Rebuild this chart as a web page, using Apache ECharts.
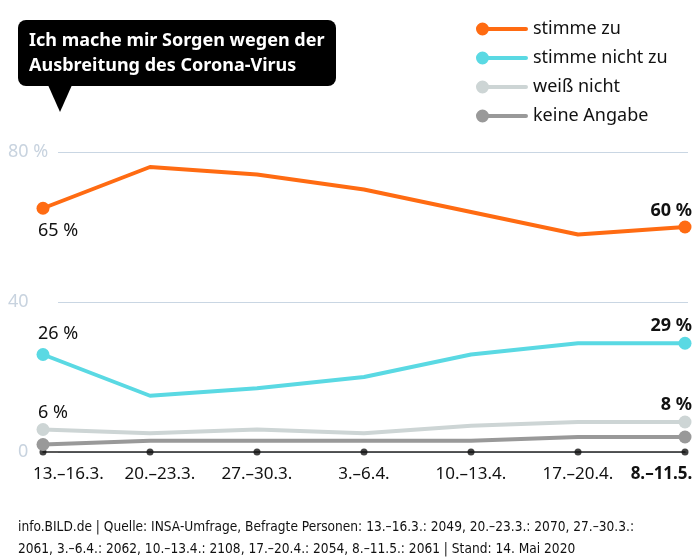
<!DOCTYPE html>
<html>
<head>
<meta charset="utf-8">
<script src="https://cdn.jsdelivr.net/npm/echarts@6/dist/echarts.min.js"></script>
<style>
html,body{margin:0;padding:0;background:#fff;}
#c{width:700px;height:560px;}
</style>
</head>
<body>
<div id="c"></div>
<script>
const categories = ['13.–16.3.', '20.–23.3.', '27.–30.3.', '3.–6.4.', '10.–13.4.', '17.–20.4.', '8.–11.5.'];
const stimmeZu = [65, 76, 74, 70, 64, 58, 60];
const stimmeNichtZu = [26, 15, 17, 20, 26, 29, 29];
const weissNicht = [6, 5, 6, 5, 7, 8, 8];
const keineAngabe = [2, 3, 3, 3, 3, 4, 4];
const seriesNames = ['stimme zu', 'stimme nicht zu', 'weiß nicht', 'keine Angabe'];
const yTicks = [0, 40, 80];
const yTickLabels = ['0', '40', '80 %'];
const axisBase = categories.map(() => 0);

const colors = ['#ff6b12', '#5ad9e3', '#cdd5d5', '#999999'];
const FONT = 'Noto Sans';
const last = categories.length - 1;

function makeData(vals, firstLabel, lastLabel) {
  return vals.map((v, i) => {
    if (i === 0 && firstLabel) return { value: v, label: firstLabel };
    if (i === last && lastLabel) return { value: v, label: lastLabel };
    return v;
  });
}
const lblBase = { show: true, formatter: '{c} %', fontFamily: FONT, fontSize: 18, color: '#111' };
function lbl(pos, align, dist, bold) {
  return Object.assign({}, lblBase, {
    position: pos, align: align, distance: dist,
    offset: [align === 'left' ? -5 : 7, 0],
    fontWeight: bold ? 'bold' : 'normal'
  });
}

function lineSeries(idx, vals, fl, ll) {
  return {
    name: seriesNames[idx],
    type: 'line',
    xAxisIndex: 0, yAxisIndex: 0,
    data: makeData(vals, fl, ll),
    symbol: 'circle',
    symbolSize: (v, p) => (p.dataIndex === 0 || p.dataIndex === last) ? 13 : 0,
    showAllSymbol: true,
    itemStyle: { color: colors[idx] },
    lineStyle: { color: colors[idx], width: 4 },
    label: { show: false },
    z: 10 - idx
  };
}

const legendIcon = 'path://M0,6.5 A6.5,6.5 0 1,1 13,6.5 A6.5,6.5 0 1,1 0,6.5 Z M6.5,4.5 L50,4.5 A2,2 0 0,1 50,8.5 L6.5,8.5 Z';
const xRichBase = { fontFamily: FONT, fontSize: 17, color: '#111' };

const chart = echarts.init(document.getElementById('c'), null, { renderer: 'canvas' });
chart.setOption({
  animation: false,
  backgroundColor: '#fff',
  title: [
    {
      text: 'Ich mache mir Sorgen wegen der\nAusbreitung des Corona-Virus',
      left: 24, top: 23,
      textStyle: { color: '#fff', fontFamily: FONT, fontWeight: 'bold', fontSize: 18, lineHeight: 25 },
      z: 20
    },
    {
      text: 'info.BILD.de | Quelle: INSA-Umfrage, Befragte Personen: 13.–16.3.: 2049, 20.–23.3.: 2070, 27.–30.3.:\n2061, 3.–6.4.: 2062, 10.–13.4.: 2108, 17.–20.4.: 2054, 8.–11.5.: 2061 | Stand: 14. Mai 2020',
      left: 13, top: 511,
      textStyle: { color: '#111', fontFamily: 'Liberation Sans Narrow, DejaVu Sans Condensed, sans-serif', fontWeight: 'normal', fontSize: 13.6, lineHeight: 22 }
    }
  ],
  graphic: [
    { type: 'rect', shape: { x: 18, y: 20, width: 318, height: 66, r: 8 }, style: { fill: '#000' }, z: 1 },
    { type: 'polygon', shape: { points: [[48, 85], [72, 85], [60, 112]] }, style: { fill: '#000' }, z: 1 }
  ],
  legend: {
    data: seriesNames,
    orient: 'vertical',
    left: 471, top: 15,
    itemWidth: 52, itemHeight: 13, itemGap: 11,
    icon: legendIcon,
    textStyle: { fontFamily: FONT, fontSize: 18, color: '#111' },
    selectedMode: false
  },
  grid: [
    { left: 43, right: 15, top: 152, bottom: 108 },
    { left: 58, right: 12, top: 152, bottom: 108 }
  ],
  xAxis: [
    {
      type: 'category', gridIndex: 0, data: categories, boundaryGap: false,
      axisLine: { show: true, lineStyle: { color: '#222', width: 1.5 } },
      axisTick: { show: false },
      splitLine: { show: false },
      axisLabel: {
        margin: 14, fontFamily: FONT, fontSize: 17, color: '#111', interval: 0,
        formatter: (v, i) => {
          if (i === 0) return '{f|' + v + '}';
          if (i === 1) return '{s|' + v + '}';
          if (i === last) return '{b|' + v + '}';
          return '{n|' + v + '}';
        },
        rich: {
          n: xRichBase,
          f: Object.assign({}, xRichBase, { padding: [0, 0, 0, 51] }),
          s: Object.assign({}, xRichBase, { padding: [0, 0, 0, 20] }),
          b: Object.assign({}, xRichBase, { fontWeight: 'bold', padding: [0, 47, 0, 0] })
        }
      }
    },
    { type: 'value', gridIndex: 1, min: 0, max: 1, show: false }
  ],
  yAxis: [
    { type: 'value', gridIndex: 0, min: 0, max: 80, show: false },
    {
      type: 'value', gridIndex: 1, min: 0, max: 80, interval: 40,
      axisLine: { show: false }, axisTick: { show: false },
      splitLine: { show: true, lineStyle: { color: '#c9d6e3', width: 1 } },
      axisLabel: {
        margin: 50, align: 'left', fontFamily: FONT, fontSize: 18, color: '#c8d3df',
        formatter: (v) => {
          const t = yTickLabels[yTicks.indexOf(v)];
          return v === 0 ? '{z|' + t + '}' : t;
        },
        rich: { z: { padding: [0, 0, 0, 10], fontFamily: FONT, fontSize: 18, color: '#c8d3df' } }
      }
    }
  ],
  series: [
    {
      name: 'ticks', type: 'scatter', xAxisIndex: 0, yAxisIndex: 0,
      data: axisBase, symbol: 'circle', symbolSize: 7,
      itemStyle: { color: '#111' }, z: 3, silent: true
    },
    lineSeries(3, keineAngabe, null, null),
    lineSeries(2, weissNicht, lbl('top', 'left', 1, false), lbl('top', 'right', 2, true)),
    lineSeries(1, stimmeNichtZu, lbl('top', 'left', 5, false), lbl('top', 'right', 2, true)),
    lineSeries(0, stimmeZu, lbl('bottom', 'left', 7, false), lbl('top', 'right', 1, true))
  ]
});
</script>
</body>
</html>
